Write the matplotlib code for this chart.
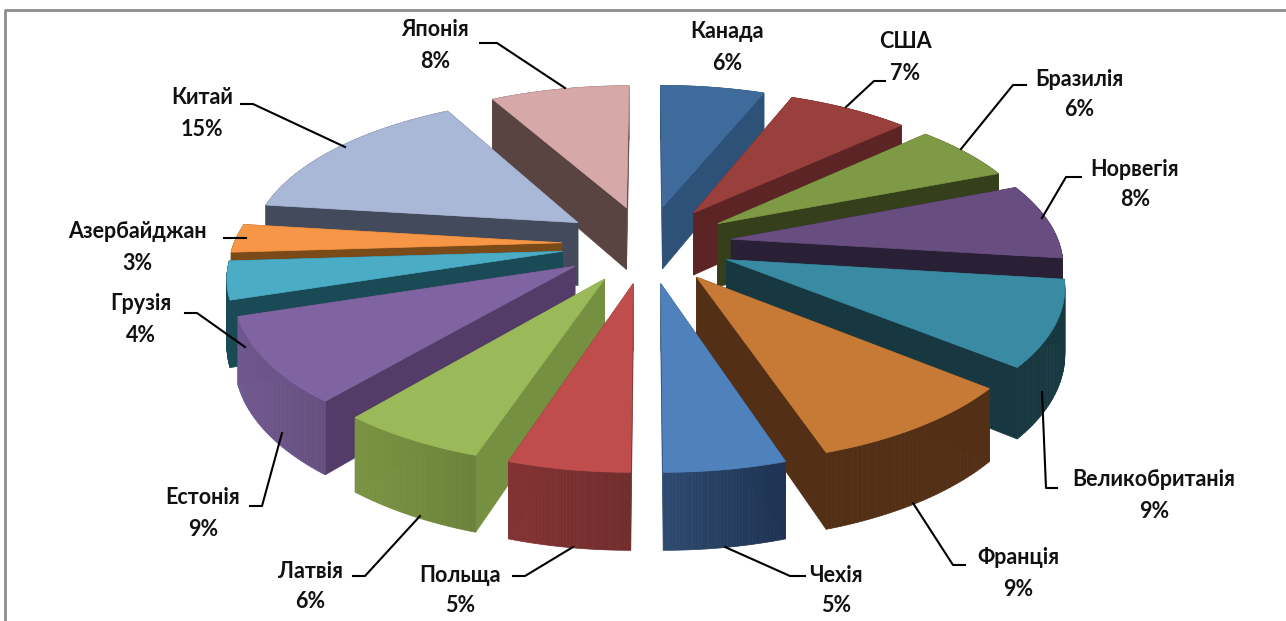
# Exploded 3D-looking pie, projected by hand because matplotlib has no such pie
import matplotlib.pyplot as plt
from matplotlib.patches import Polygon
import numpy as np

plt.rcParams['font.family'] = ['Lato', 'Open Sans', 'DejaVu Sans']

countries = ["Канада", "США", "Бразилія", "Норвегія", "Великобританія", "Франція", "Чехія",
             "Польща", "Латвія", "Естонія", "Грузія", "Азербайджан", "Китай", "Японія"]
shares = [6, 7, 6, 8, 9, 9, 5, 5, 6, 9, 4, 3, 15, 8]

# colours: top face, radial wall, outer wall left and right
top_colors = ["#3E6A9C", "#993F3C", "#7E9A44", "#684E80", "#398AA3", "#C77A35", "#4F81BD",
              "#BE4D4B", "#9ABA59", "#8064A2", "#4BACC6", "#F79646", "#A9B8D7", "#D6A8A8"]
wall_colors = ["#2E5177", "#5C2424", "#363F1C", "#2A2035", "#173840", "#522F15", "#2D4A6F",
               "#712C2C", "#769041", "#533D68", "#1A4A55", "#7A4A18", "#424A5C", "#594442"]
outer_left = ["#2E5177", "#5C2424", "#363F1C", "#2A2035", "#173840", "#522F15", "#2D4A6F",
              "#843333", "#7A9443", "#705890", "#1A4A55", "#7A4A18", "#424A5C", "#594442"]
outer_right = ["#2E5177", "#5C2424", "#363F1C", "#2A2035", "#173840", "#522F15", "#1F3353",
               "#712C2C", "#6B8339", "#66507F", "#1A4A55", "#7A4A18", "#424A5C", "#594442"]

# label centres (name line, percent line) and leader lines in picture pixels
label_xy = [(727, 32, 63), (905, 41, 73), (1079, 79, 110), (1135, 169, 200), (1154, 479, 511),
            (1018, 557, 589), (836, 575, 606), (460, 576, 606), (310, 571, 602), (203, 497, 529),
            (141, 304, 336), (137, 231, 263), (202, 97, 129), (435, 30, 62)]
leaders = [None,
           [(846, 107), (874, 81), (885, 81)],
           [(961, 149), (1013, 85), (1026, 85)],
           [(1042, 218), (1066, 177), (1081, 177)],
           [(1042, 392), (1046, 488), (1057, 488)],
           [(913, 503), (953, 565), (965, 565)],
           [(725, 547), (790, 576), (805, 576)],
           [(573, 547), (525, 576), (513, 576)],
           [(420, 516), (365, 576), (353, 576)],
           [(282, 433), (262, 506), (250, 506)],
           [(245, 347), (197, 313), (185, 313)],
           [(246, 238), (224, 238)],
           [(345, 147), (253, 104), (241, 104)],
           [(565, 88), (497, 43), (480, 43)]]

# projection constants fitted to the reference
cx, cy = 647, 244
scale_x, scale_y = 328, 149
height = 64
persp = 0.143
explode = 0.26


def project(x, y, z=0):
    s = 1 / (1 - persp * y)
    return cx + scale_x * x * s, cy + scale_y * y * s + height * z * s


fig = plt.figure(figsize=(12.86, 6.21), dpi=100)
ax = fig.add_axes([0, 0, 1, 1])
ax.set_xlim(0, 1286)
ax.set_ylim(621, 0)
ax.axis("off")

# frame of the chart area
ax.plot([4.5, 4.5, 1286], [621, 10, 10], color="#8C8C8C", lw=2)

# angles run clockwise from twelve o'clock, y grows towards the viewer
ends = np.cumsum(shares) / np.sum(shares) * 2 * np.pi
starts = np.concatenate([[0], ends[:-1]])
mids = (starts + ends) / 2

for i in np.argsort(-np.cos(mids)):
    dx = explode * np.sin(mids[i])
    dy = -explode * np.cos(mids[i])
    t = np.linspace(starts[i], ends[i], 40)
    xs = dx + np.sin(t)
    ys = dy - np.cos(t)

    top_rim = [project(a, b) for a, b in zip(xs, ys)]
    low_rim = [project(a, b, 1) for a, b in zip(xs, ys)]
    apex_top = project(dx, dy)
    apex_low = project(dx, dy, 1)

    # radial walls
    ax.add_patch(Polygon([apex_top, top_rim[0], low_rim[0], apex_low], fc=wall_colors[i], ec=wall_colors[i], lw=0.5))
    ax.add_patch(Polygon([apex_top, top_rim[-1], low_rim[-1], apex_low], fc=wall_colors[i], ec=wall_colors[i], lw=0.5))

    # outer wall in narrow strips, shade goes from left to right on screen
    left = np.array(plt.matplotlib.colors.to_rgb(outer_left[i]))
    right = np.array(plt.matplotlib.colors.to_rgb(outer_right[i]))
    x_min = min(p[0] for p in top_rim)
    x_max = max(p[0] for p in top_rim)
    for j in range(len(t) - 1):
        f = (top_rim[j][0] - x_min) / max(x_max - x_min, 1)
        col = left + (right - left) * f
        ax.add_patch(Polygon([top_rim[j], top_rim[j + 1], low_rim[j + 1], low_rim[j]], fc=col, ec=col, lw=0.5))

    ax.add_patch(Polygon([apex_top] + top_rim, fc=top_colors[i], ec=top_colors[i], lw=0.5))

# labels and leader lines go on top
for i, name in enumerate(countries):
    x, y1, y2 = label_xy[i]
    ax.text(x, y1, name, ha="center", va="center", fontsize=15.5, fontweight="bold", color="#111111")
    ax.text(x, y2, f"{shares[i]}%", ha="center", va="center", fontsize=15.5, fontweight="bold", color="#111111")
    if leaders[i]:
        ax.plot([p[0] for p in leaders[i]], [p[1] for p in leaders[i]], color="black", lw=1.5)

fig.savefig("out.png", dpi=100)
